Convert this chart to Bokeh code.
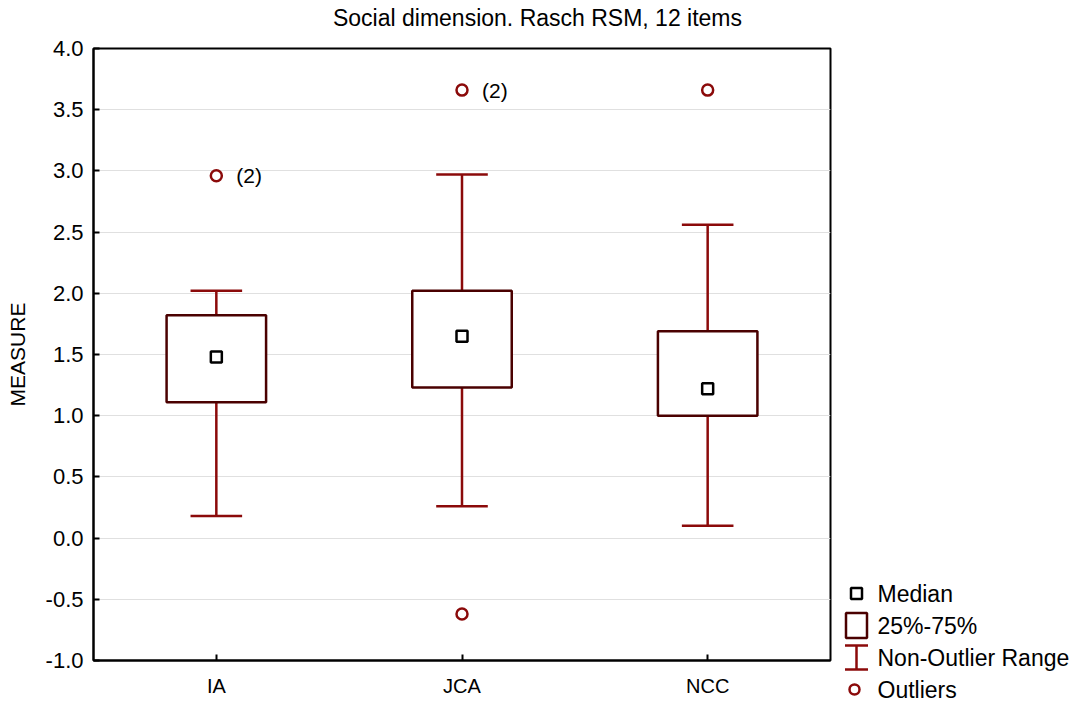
import numpy as np
from bokeh.plotting import figure
from bokeh.layouts import row, column
from bokeh.models import Range1d, FixedTicker, PrintfTickFormatter, ColumnDataSource
from bokeh.core.properties import value
from bokeh.embed import file_html
from bokeh.resources import INLINE

# ---- data ----
categories = ["IA", "JCA", "NCC"]
q1 = [1.11, 1.23, 1.00]
median = [1.48, 1.65, 1.22]
q3 = [1.82, 2.02, 1.69]
whisker_low = [0.18, 0.26, 0.10]
whisker_high = [2.02, 2.97, 2.56]
outlier_cat = ["IA", "JCA", "JCA", "NCC"]
outlier_val = [2.96, 3.66, -0.62, 3.66]
outlier_label = ["(2)", "(2)", "", ""]
y_ticks = [-1.0, -0.5, 0.0, 0.5, 1.0, 1.5, 2.0, 2.5, 3.0, 3.5, 4.0]
legend_labels = ["Median", "25%-75%", "Non-Outlier Range", "Outliers"]
title_text = "Social dimension. Rasch RSM, 12 items"
y_label = "MEASURE"

FONT = "Liberation Sans"
BOX_COLOR = "#4a0000"
WHISK_COLOR = "#8b0a0a"
BOX_W = 0.405
CAP_W = 0.21
W, H = 1072, 704
TITLE_H = 34
MAIN_W = 840


def no_align(fig):
    try:
        fig.frame_align = False
    except Exception:
        pass


xs = np.arange(1, len(categories) + 1)
pos = {c: i + 1 for i, c in enumerate(categories)}

src = ColumnDataSource(dict(
    x=xs, q1=q1, q3=q3, med=median, lo=whisker_low, hi=whisker_high,
    left=xs - BOX_W / 2, right=xs + BOX_W / 2,
    cl=xs - CAP_W / 2, cr=xs + CAP_W / 2,
))
osrc = ColumnDataSource(dict(
    x=[pos[c] for c in outlier_cat], y=outlier_val, t=outlier_label,
))

# ---- title strip ----
tf = figure(width=W, height=TITLE_H, x_range=Range1d(0, W), y_range=Range1d(TITLE_H, 0),
            output_backend="svg", toolbar_location=None, min_border=0)
tf.axis.visible = False
tf.grid.visible = False
tf.outline_line_color = None
no_align(tf)
tf.text(x=[537], y=[TITLE_H / 2], text=[title_text], text_align="center", text_baseline="middle",
        text_font=value(FONT), text_font_size="23px", text_color="black")

# ---- main plot ----
p = figure(
    width=MAIN_W, height=H - TITLE_H,
    min_border_left=93, min_border_top=48 - TITLE_H, min_border_bottom=44,
    min_border_right=MAIN_W - 830,
    x_range=Range1d(0.5, len(categories) + 0.5), y_range=Range1d(-1.0, 4.0),
    output_backend="svg", toolbar_location=None,
)
no_align(p)
p.background_fill_color = "white"
p.border_fill_color = "white"
p.outline_line_color = "black"
p.outline_line_width = 2

p.xgrid.visible = False
p.ygrid.grid_line_color = "#e0e0e0"
p.ygrid.grid_line_width = 1
p.ygrid.ticker = FixedTicker(ticks=y_ticks)

p.yaxis.ticker = FixedTicker(ticks=y_ticks)
p.yaxis.formatter = PrintfTickFormatter(format="%.1f")
p.yaxis.axis_label = y_label
p.yaxis.axis_label_text_font = FONT
p.yaxis.axis_label_text_font_size = "21px"
p.yaxis.axis_label_text_font_style = "normal"
p.yaxis.axis_label_text_color = "black"
p.yaxis.axis_label_standoff = 14

p.xaxis.ticker = FixedTicker(ticks=list(xs))
p.xaxis.major_label_overrides = {int(x): c for x, c in zip(xs, categories)}

for ax in (p.xaxis, p.yaxis):
    ax.axis_line_color = "black"
    ax.axis_line_width = 2
    ax.major_tick_line_color = "black"
    ax.major_tick_line_width = 2
    ax.major_tick_in = 6
    ax.major_tick_out = 0
    ax.minor_tick_line_color = None
    ax.major_label_text_font = FONT
    ax.major_label_text_color = "black"
p.yaxis.major_label_text_font_size = "22px"
p.xaxis.major_label_text_font_size = "20px"
p.xaxis.major_label_standoff = 14
p.yaxis.major_label_standoff = 10

# whiskers
p.segment(x0="x", y0="q3", x1="x", y1="hi", source=src, line_color=WHISK_COLOR, line_width=2.5)
p.segment(x0="x", y0="q1", x1="x", y1="lo", source=src, line_color=WHISK_COLOR, line_width=2.5)
p.segment(x0="cl", y0="hi", x1="cr", y1="hi", source=src, line_color=WHISK_COLOR, line_width=2.5)
p.segment(x0="cl", y0="lo", x1="cr", y1="lo", source=src, line_color=WHISK_COLOR, line_width=2.5)
# boxes
p.quad(left="left", right="right", bottom="q1", top="q3", source=src,
       fill_color="white", line_color=BOX_COLOR, line_width=2.5)
# medians
p.scatter(x="x", y="med", source=src, marker="square", size=11,
          fill_color="white", line_color="black", line_width=2.5)
# outliers
p.scatter(x="x", y="y", source=osrc, marker="circle", size=11,
          fill_color="white", line_color=WHISK_COLOR, line_width=2.5)
p.text(x="x", y="y", text="t", source=osrc, x_offset=20, text_baseline="middle",
       text_font=value(FONT), text_font_size="21px", text_color="black")

# ---- legend panel (coordinates = page pixels) ----
leg = figure(width=W - MAIN_W, height=H - TITLE_H,
             x_range=Range1d(MAIN_W, W), y_range=Range1d(H, TITLE_H),
             output_backend="svg", toolbar_location=None, min_border=0)
no_align(leg)
leg.axis.visible = False
leg.grid.visible = False
leg.outline_line_color = None
leg.background_fill_color = "white"
leg.border_fill_color = "white"

cx = 856
row_y = [593, 625, 657, 689]
leg.scatter(x=[cx], y=[row_y[0]], marker="square", size=11,
            fill_color="white", line_color="black", line_width=2.5)
leg.quad(left=[cx - 10.5], right=[cx + 10.5], top=[row_y[1] - 12.5], bottom=[row_y[1] + 12.5],
         fill_color="white", line_color=BOX_COLOR, line_width=2.5)
leg.segment(x0=[cx, cx - 11.5, cx - 11.5], y0=[row_y[2] - 12, row_y[2] - 12, row_y[2] + 12],
            x1=[cx, cx + 11.5, cx + 11.5], y1=[row_y[2] + 12, row_y[2] - 12, row_y[2] + 12],
            line_color=WHISK_COLOR, line_width=2.5)
leg.scatter(x=[cx - 2], y=[row_y[3]], marker="circle", size=10,
            fill_color="white", line_color=WHISK_COLOR, line_width=2.5)
leg.text(x=[877] * 4, y=row_y, text=legend_labels, text_baseline="middle",
         text_font=value(FONT), text_font_size="23px", text_color="black")

layout = column(tf, row(p, leg))
open("out.html", "w").write(file_html(layout, INLINE))
